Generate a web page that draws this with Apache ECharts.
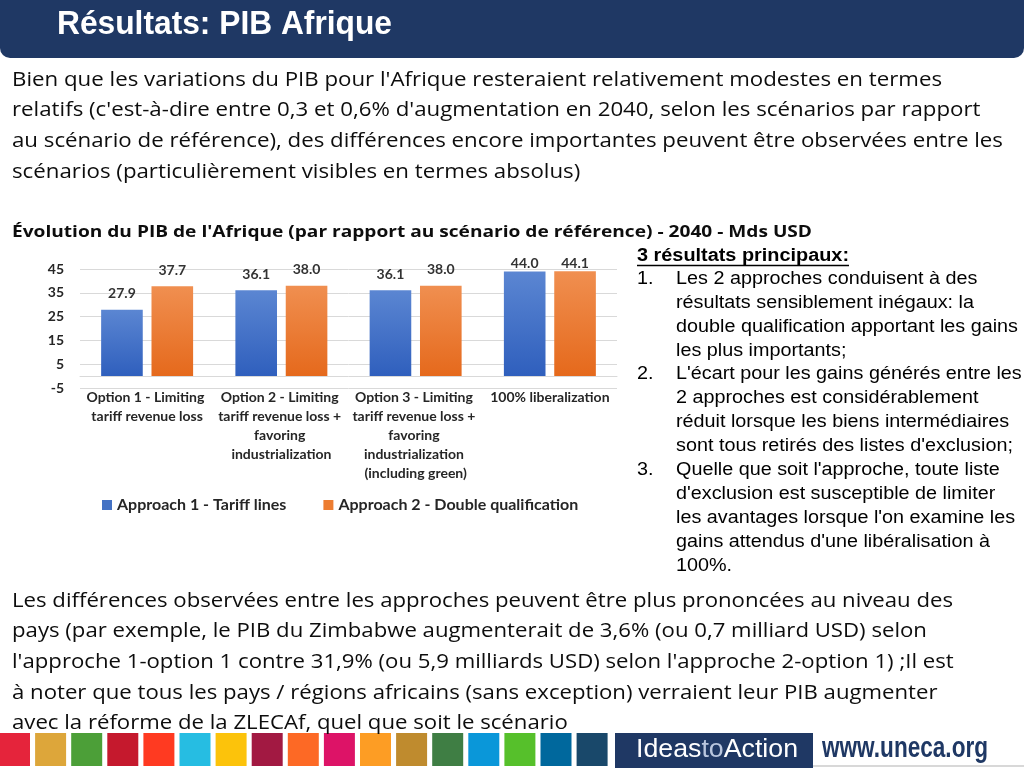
<!DOCTYPE html>
<html><head><meta charset="utf-8">
<script src="https://cdn.jsdelivr.net/npm/echarts@6/dist/echarts.min.js"></script>
<style>html,body{margin:0;padding:0;background:#fff}#c{width:1024px;height:768px}</style>
</head><body><div id="c"></div>
<script>
// ---- data ----
const categories = [
  "Option 1 - Limiting tariff revenue loss",
  "Option 2 - Limiting tariff revenue loss + favoring industrialization",
  "Option 3 - Limiting tariff revenue loss + favoring industrialization (including green)",
  "100% liberalization"
];
const seriesNames = ["Approach 1 - Tariff lines", "Approach 2 - Double qualification"];
const approach1 = [27.9, 36.1, 36.1, 44.0];
const approach2 = [37.7, 38.0, 38.0, 44.1];
const yMin = -5, yMax = 45, yInterval = 10;

const pageTitle = "Résultats: PIB Afrique";
const chartTitle = "Évolution du PIB de l'Afrique (par rapport au scénario de référence) - 2040 - Mds USD";
const introLines = [
  "Bien que les variations du PIB pour l'Afrique resteraient relativement modestes en termes",
  "relatifs (c'est-à-dire entre 0,3 et 0,6% d'augmentation en 2040, selon les scénarios par rapport",
  "au scénario de référence), des différences encore importantes peuvent être observées entre les",
  "scénarios (particulièrement visibles en termes absolus)"
];
const keyHeading = "3 résultats principaux:";
const keyPoints = [
  ["Les 2 approches conduisent à des", "résultats sensiblement inégaux: la", "double qualification apportant les gains", "les plus importants;"],
  ["L'écart pour les gains générés entre les", "2 approches est considérablement", "réduit lorsque les biens intermédiaires", "sont tous retirés des listes d'exclusion;"],
  ["Quelle que soit l'approche, toute liste", "d'exclusion est susceptible de limiter", "les avantages lorsque l'on examine les", "gains attendus d'une libéralisation à", "100%."]
];
const outroLines = [
  "Les différences observées entre les approches peuvent être plus prononcées au niveau des",
  "pays (par exemple, le PIB du Zimbabwe augmenterait de 3,6% (ou 0,7 milliard USD) selon",
  "l'approche 1-option 1 contre 31,9% (ou 5,9 milliards USD) selon l'approche 2-option 1) ;Il est",
  "à noter que tous les pays / régions africains (sans exception) verraient leur PIB augmenter",
  "avec la réforme de la ZLECAf, quel que soit le scénario"
];
const sdgColors = ["#E5243B","#DDA63A","#4C9F38","#C5192D","#FF3A21","#26BDE2","#FCC30B","#A21942","#FD6925","#DD1367","#FD9D24","#BF8B2E","#3F7E44","#0A97D9","#56C02B","#00689D","#19486A"];

// ---- styles / helpers ----
const NAVY = "#1f3864";
const BODY = "'Open Sans', Lato, sans-serif";
const ARIAL = "'Liberation Sans', Arial, sans-serif";
const LATO = "Lato, 'Open Sans', sans-serif";
const mctx = document.createElement('canvas').getContext('2d');
function fitScale(text, font, target){ mctx.font = font; return target / mctx.measureText(text).width; }

const blueGrad = new echarts.graphic.LinearGradient(0,0,0,1,[{offset:0,color:"#5b86d2"},{offset:1,color:"#2f5fbd"}]);
const orangeGrad = new echarts.graphic.LinearGradient(0,0,0,1,[{offset:0,color:"#f08f50"},{offset:1,color:"#e5691c"}]);

const graphics = [];
function txt(x, y, text, font, fill, sx, extra){
  graphics.push(Object.assign({type:'text', x:x, y:y, scaleX:sx||1, style:{text:text, font:font, fill:fill, verticalAlign:'middle'}}, extra||{}));
}
// banner
graphics.push({type:'rect', shape:{x:0,y:0,width:1024,height:58,r:[0,0,10,10]}, style:{fill:NAVY}, z:1});
const titleFont = "bold 33px 'Liberation Sans', Arial, sans-serif";
txt(57, 25, pageTitle, titleFont, "#fff", fitScale(pageTitle, titleFont, 335), {z:2});
// intro
const introFont = "20px " + BODY;
const sIntro = fitScale(introLines[0], introFont, 930);
introLines.forEach((t,i)=>txt(12, 80+i*30.7, t, introFont, "#0d0d0d", sIntro));
// chart title
const ctFont = "bold 16px " + BODY;
txt(12, 232, chartTitle, ctFont, "#0d0d0d", fitScale(chartTitle, ctFont, 800));
// key points
const kpFont = "17.5px " + ARIAL, kpBold = "bold 17.5px " + ARIAL;
const sKp = fitScale("double qualification apportant les gains", kpFont, 342);
const sHead = fitScale(keyHeading, kpBold, 212);
txt(637, 256, keyHeading, kpBold, "#000", sHead);
graphics.push({type:'line', shape:{x1:637,y1:265.5,x2:849,y2:265.5}, style:{stroke:"#000", lineWidth:1.5}});
let ly = 279;
keyPoints.forEach((pt,k)=>{
  txt(637, ly, (k+1)+".", kpFont, "#000", sKp);
  pt.forEach(line=>{ txt(676, ly, line, kpFont, "#000", sKp); ly += 23.9; });
});
// outro
const sOutro = fitScale(outroLines[0], introFont, 941);
// footer strip
sdgColors.forEach((c,i)=>graphics.push({type:'rect', shape:{x:-1+i*36.1,y:733,width:31,height:33}, style:{fill:c}}));
graphics.push({type:'rect', shape:{x:615,y:733,width:198,height:35}, style:{fill:NAVY}});
const iaFont = "26px " + ARIAL;
graphics.push({type:'text', x:636, y:750, scaleX:fitScale("IdeastoAction", iaFont, 162), style:{text:"{a|Ideas}{b|to}{a|Action}", font:iaFont, fill:"#fff", verticalAlign:'middle',
  rich:{a:{fontSize:26, fontFamily:"'Liberation Sans', Arial", fill:"#fff"}, b:{fontSize:26, fontFamily:"'Liberation Sans', Arial", fill:"#b9c6de"}}}});
graphics.push({type:'line', shape:{x1:813,y1:766,x2:1024,y2:766}, style:{stroke:"#d8d8d8", lineWidth:2}});
const unFont = "bold 29px " + ARIAL;
txt(822, 749, "www.uneca.org", unFont, NAVY, fitScale("www.uneca.org", unFont, 166));
outroLines.forEach((t,i)=>txt(12, 601+i*30.6, t, introFont, "#0d0d0d", sOutro, {z:5}));

function barData(vals){
  return vals.map(v=>({value:v, label:{distance: v > 42 ? 1 : 9}}));
}
const labelStyle = {show:true, position:'top', formatter:p=>p.value.toFixed(1), fontFamily:LATO, fontWeight:'bold', fontSize:14, color:"#333"};

const chart = echarts.init(document.getElementById('c'), null, {renderer:'canvas'});
chart.setOption({
  animation:false,
  graphic: graphics,
  grid:{left:80, right:407, top:269, bottom:380, outerBoundsMode:'none', containLabel:false},
  legend:{left:102, top:497, padding:0, itemWidth:10, itemHeight:10, itemGap:37, icon:'rect',
    textStyle:{fontFamily:LATO, fontWeight:'bold', fontSize:16, color:"#262626"},
    data:[{name:seriesNames[0], itemStyle:{color:"#4472c4"}},{name:seriesNames[1], itemStyle:{color:"#ed7d31"}}]},
  xAxis:{type:'category', data:categories,
    axisLine:{onZero:true, lineStyle:{color:"#d9d9d9"}}, axisTick:{show:false},
    axisLabel:{interval:0, margin:0, width:134, overflow:'break', lineHeight:19, fontFamily:LATO, fontWeight:'bold', fontSize:14, color:"#262626"}},
  yAxis:{type:'value', min:yMin, max:yMax, interval:yInterval,
    axisLine:{show:false}, axisTick:{show:false},
    splitLine:{lineStyle:{color:"#d9d9d9"}},
    axisLabel:{margin:16, fontFamily:LATO, fontWeight:'bold', fontSize:14, color:"#262626"}},
  series:[
    {name:seriesNames[0], type:'bar', data:barData(approach1), barWidth:'31%', barGap:'21%', itemStyle:{color:blueGrad}, label:labelStyle},
    {name:seriesNames[1], type:'bar', data:barData(approach2), barWidth:'31%', barGap:'21%', itemStyle:{color:orangeGrad}, label:labelStyle}
  ]
});
</script></body></html>
